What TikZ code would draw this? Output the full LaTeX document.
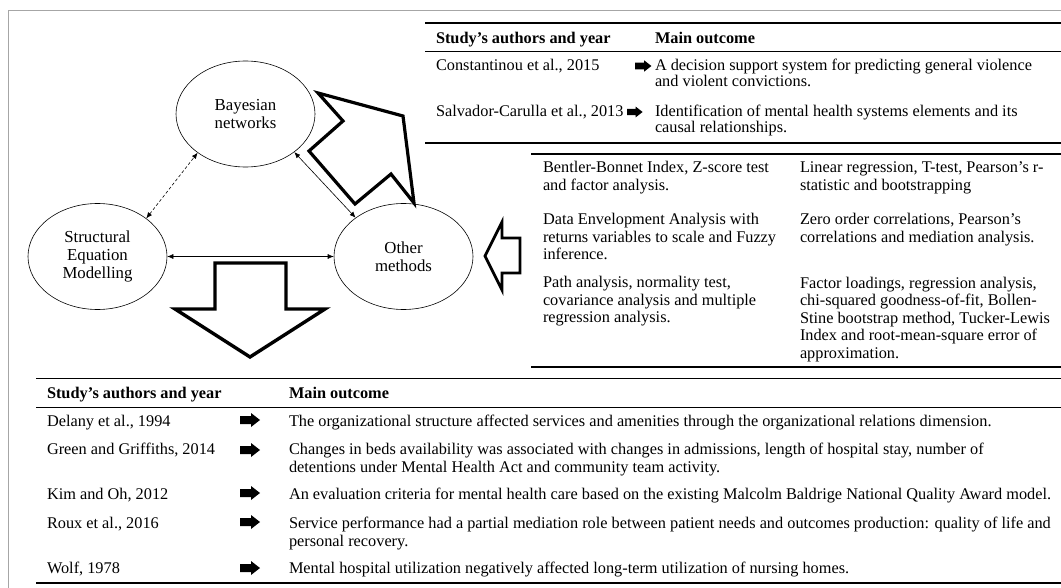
\documentclass[tikz,border=0pt]{standalone}
\usepackage{fontspec}
\setmainfont{Liberation Serif}
\usetikzlibrary{shapes.geometric,arrows.meta}
\begin{document}
\begin{tikzpicture}[x=1pt,y=-1pt,
  txt/.style={anchor=base west, inner sep=0pt, outer sep=0pt, align=left, font=\fontsize{16.3}{18}\selectfont},
  txttop/.style={txt, font=\fontsize{16.3}{16}\selectfont},
  txtm/.style={txt, font=\fontsize{16.3}{17.5}\selectfont},
  hdr/.style={txt, font=\fontsize{16.3}{18}\selectfont\bfseries},
  method/.style={ellipse, draw, line width=0.6pt, minimum width=139pt, minimum height=106pt, inner sep=0pt, align=center, font=\fontsize{16.8}{18}\selectfont},
  rulethick/.style={line width=1.4pt},
  rulethin/.style={line width=0.9pt},
  link/.style={line width=0.6pt, {Latex[length=6pt,width=5pt]}-{Latex[length=6pt,width=5pt]}},
  bigarrow/.style={draw=black, fill=white, line width=3.2pt, line join=miter, miter limit=10},
  tabarrow/.pic={\fill (0,-4) -- (11,-4) -- (11,-7) -- (20,0) -- (11,7) -- (11,4) -- (0,4) -- cycle;}
]
\useasboundingbox (0,0) rectangle (1061,588);
% frame
\draw[gray!70, line width=0.8pt] (8,588) -- (8,10.5) -- (1061,10.5);

% ellipses
\node[method] (bay) at (245.5,114) {Bayesian\\networks};
\node[method] (sem) at (97.5,256.5) {Structural\\Equation\\Modelling};
\node[method] (oth) at (403.5,256.5) {Other\\methods};

% connectors
\draw[link, dash pattern=on 3pt off 2.2pt] (sem.38) -- (bay.219);
\draw[link] (bay.-38.5) -- (oth.141.4);
\draw[link] (sem.east) -- (oth.west);

% big block arrows
\draw[bigarrow] (318,93) -- (403,116) -- (414,203) -- (391,174) -- (355,204) -- (309,151) -- (343,121) -- cycle;
\draw[bigarrow, line width=3.4pt] (215,263) -- (286,263) -- (286,309) -- (325,309) -- (250,357) -- (175,309) -- (215,309) -- cycle;
\draw[bigarrow, line width=2.8pt] (485,256) -- (502,222) -- (502,238) -- (520,238) -- (520,273) -- (502,273) -- (502,290) -- cycle;

% ---------- top table ----------
\draw[rulethick] (425,23) -- (1061,23);
\draw[rulethin] (425,51) -- (1061,51);
\draw[rulethick] (425,143) -- (1061,143);
\node[hdr] (t1h1) at (436,44) {Study’s authors and year};
\node[hdr] (t1h2) at (655,44) {Main outcome};
\node[txttop] (t1a1) at (436,71) {Constantinou et al., 2015};
\node[txttop] (t1o1) at (655,87) {A decision support system for predicting general violence\\and violent convictions.};
\pic[scale=0.82] at (635,66) {tabarrow};
\node[txttop] (t1a2) at (436,117) {Salvador-Carulla et al., 2013};
\node[txttop] (t1o2) at (655,133) {Identification of mental health systems elements and its\\causal relationships.};
\pic[scale=0.78] at (627,112) {tabarrow};

% ---------- methods table ----------
\draw[rulethick] (531,154) -- (1061,154);
\draw[rulethick] (531,367) -- (1061,367);
\node[txtm] (m11) at (543,190.5) {Bentler-Bonnet Index, Z-score test\\and factor analysis.};
\node[txtm] (m12) at (800,190.5) {Linear regression, T-test, Pearson’s r-\\statistic and bootstrapping};
\node[txtm] (m21) at (543,260) {Data Envelopment Analysis with\\returns variables to scale and Fuzzy\\inference.};
\node[txtm] (m22) at (800,242.5) {Zero order correlations, Pearson’s\\correlations and mediation analysis.};
\node[txtm] (m31) at (543,323) {Path analysis, normality test,\\covariance analysis and multiple\\regression analysis.};
\node[txtm] (m32) at (800,358) {Factor loadings, regression analysis,\\chi-squared goodness-of-fit, Bollen-\\Stine bootstrap method, Tucker-Lewis\\Index and root-mean-square error of\\approximation.};

% ---------- bottom table ----------
\draw[rulethick] (36,378.5) -- (1061,378.5);
\draw[rulethin] (36,407) -- (1061,407);
\draw[rulethick] (36,583) -- (1061,583);
\node[hdr] (t2h1) at (47,398) {Study’s authors and year};
\node[hdr] (t2h2) at (289,398) {Main outcome};

\node[txt] (t2a1) at (47,426) {Delany et al., 1994};
\pic at (240,420) {tabarrow};
\node[txt] (t2o1) at (289,426) {The organizational structure affected services and amenities through the organizational relations dimension.};

\node[txt] (t2a2) at (47,454) {Green and Griffiths, 2014};
\pic at (240,450) {tabarrow};
\node[txt] (t2o2) at (289,472) {Changes in beds availability was associated with changes in admissions, length of hospital stay, number of\\detentions under Mental Health Act and community team activity.};

\node[txt] (t2a3) at (47,499) {Kim and Oh, 2012};
\pic at (240,493) {tabarrow};
\node[txt] (t2o3) at (289,499) {An evaluation criteria for mental health care based on the existing Malcolm Baldrige National Quality Award model.};

\node[txt] (t2a4) at (47,528) {Roux et al., 2016};
\pic at (240,522) {tabarrow};
\node[txt] (t2o4) at (289,546) {Service performance had a partial mediation role between patient needs and outcomes production: quality of life and\\personal recovery.};

\node[txt] (t2a5) at (47,573) {Wolf, 1978};
\pic at (240,568) {tabarrow};
\node[txt] (t2o5) at (289,573) {Mental hospital utilization negatively affected long-term utilization of nursing homes.};
\end{tikzpicture}
\end{document}
